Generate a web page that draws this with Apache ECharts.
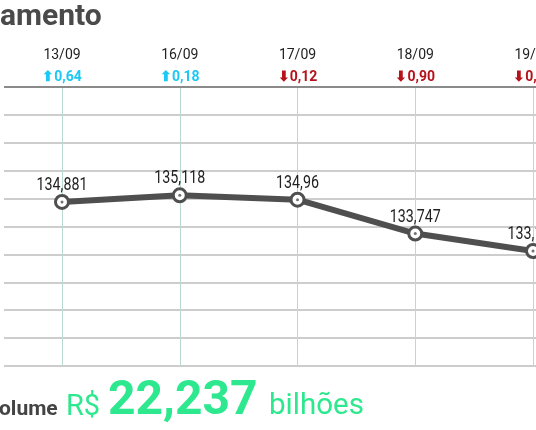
<!DOCTYPE html>
<html><head><meta charset="utf-8">
<script src="https://cdn.jsdelivr.net/npm/echarts@6/dist/echarts.min.js"></script>
<style>html,body{margin:0;padding:0;background:#fff}#c{width:536px;height:430px}</style>
</head><body><div id="c"></div>
<script>
const dates = ['13/09','16/09','17/09','18/09','19/09'];
const values = [134.881, 135.118, 134.96, 133.747, 133.123];
const changes = [0.64, 0.18, -0.12, -0.90, -0.47];
const yTicks = {min:129, max:139, interval:1};
const titleText = 'amento';
const volumeLabel = 'olume';
const volumeValue = '22,237';

const fmt = v => String(v).replace('.', ',');
const fmtChg = c => (c >= 0 ? '{up|⬆' : '{dn|⬇') + Math.abs(c).toFixed(2).replace('.', ',') + '}';

const chart = echarts.init(document.getElementById('c'));
chart.setOption({
  animation:false,
  grid:[
    {left:4, right:0, top:87, height:279, outerBoundsMode:'none', containLabel:false},
    {left:62, right:3, top:87, height:279, outerBoundsMode:'none', containLabel:false}
  ],
  xAxis:[
    {gridIndex:0, type:'value', show:false, min:0, max:1},
    {gridIndex:1, type:'category', data:dates, boundaryGap:false, position:'top',
     axisLine:{show:false}, axisTick:{show:false},
     splitLine:{show:true, lineStyle:{color:'#b9d9d2', width:1}},
     axisLabel:{interval:0, margin:3, showMaxLabel:true, hideOverlap:false,
       fontFamily:'Roboto', fontSize:14,
       formatter:(v,i)=> '{d|'+v+'}\n'+fmtChg(changes[i]),
       rich:{
         d:{fontFamily:'Roboto', fontSize:14, color:'#222', lineHeight:30, align:'center'},
         up:{fontFamily:'Roboto', fontWeight:'bold', fontSize:14, color:'#1cc8f5', lineHeight:14, align:'center'},
         dn:{fontFamily:'Roboto', fontWeight:'bold', fontSize:14, color:'#b5121b', lineHeight:14, align:'center'}
       }}
    }
  ],
  yAxis:[
    {gridIndex:0, type:'value', min:yTicks.min, max:yTicks.max, interval:yTicks.interval,
     axisLabel:{show:false}, axisLine:{show:false}, axisTick:{show:false},
     splitLine:{lineStyle:{color:'#bdbdbd', width:1.5}}},
    {gridIndex:1, type:'value', min:yTicks.min, max:yTicks.max, interval:yTicks.interval, show:false,
     splitLine:{show:false}}
  ],
  graphic:[
    {type:'line', shape:{x1:4,y1:87,x2:536,y2:87}, style:{stroke:'#8a8a8a', lineWidth:2}, z:5},
    {type:'text', x:0, y:2, style:{text:titleText, fontFamily:'Roboto', fontWeight:'bold', fontSize:30, fill:'#4a4a4a', verticalAlign:'top'}},
    {type:'text', x:-1, y:399, style:{text:volumeLabel, fontFamily:'Roboto', fontWeight:'bold', fontSize:21, fill:'#444', verticalAlign:'top'}},
    {type:'text', x:66, y:393, style:{text:'R$', fontFamily:'Roboto', fontSize:29, fill:'#2de88e', verticalAlign:'top'}},
    {type:'text', x:108, y:377.5, style:{text:volumeValue, fontFamily:'Roboto', fontWeight:'bold', fontSize:48, fill:'#2de88e', verticalAlign:'top'}},
    {type:'text', x:269, y:392, style:{text:'bilhões', fontFamily:'Roboto', fontSize:29.5, fill:'#2de88e', verticalAlign:'top'}}
  ],
  series:[
    {type:'line', xAxisIndex:1, yAxisIndex:1, data:values, z:3,
     lineStyle:{color:'#4f4f4f', width:6},
     symbol:'circle', symbolSize:13,
     itemStyle:{color:'#fff', borderColor:'#4f4f4f', borderWidth:3}},
    {type:'scatter', xAxisIndex:1, yAxisIndex:1, data:values, z:4, symbol:'circle', symbolSize:3,
     itemStyle:{color:'#4f4f4f'}, silent:true},
    {type:'custom', xAxisIndex:1, yAxisIndex:1, data:values.map((v,i)=>[i,v]), z:5, silent:true,
     renderItem:(params, api)=>{
       const p = api.coord([api.value(0), api.value(1)]);
       return {type:'text', x:p[0], y:p[1]-7, scaleX:0.77, originX:0, originY:0,
         style:{text:fmt(api.value(1)), fontFamily:'Roboto', fontSize:18.5, fill:'#222',
           align:'center', verticalAlign:'bottom'}};
     }}
  ]
});
</script></body></html>
